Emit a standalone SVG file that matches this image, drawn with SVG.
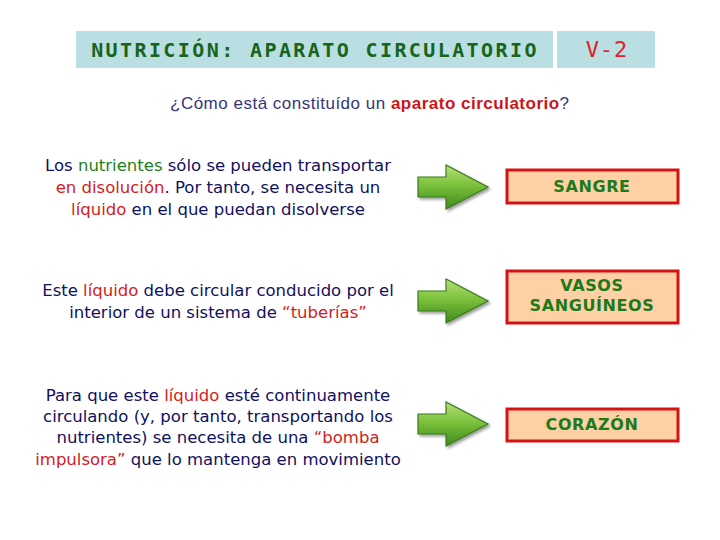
<svg xmlns="http://www.w3.org/2000/svg" width="720" height="540" viewBox="0 0 720 540">
<defs>
<linearGradient id="ag" x1="0" y1="0" x2="0" y2="1">
<stop offset="0" stop-color="#b6e07a"/>
<stop offset="0.45" stop-color="#7cc23c"/>
<stop offset="1" stop-color="#3f8a1c"/>
</linearGradient>
<filter id="sh" x="-20%" y="-20%" width="150%" height="150%">
<feGaussianBlur in="SourceAlpha" stdDeviation="1.5"/>
<feOffset dx="1.5" dy="2" result="b"/>
<feComponentTransfer><feFuncA type="linear" slope="0.4"/></feComponentTransfer>
<feMerge><feMergeNode/><feMergeNode in="SourceGraphic"/></feMerge>
</filter>
<path id="arrow" d="M-70,-10 L-42,-10 L-42,-22 L0,0 L-42,22 L-42,10 L-70,10 Z"/>
</defs>
<style>
.hdr{fill:#b9dfe3}
.ttl{font-family:"DejaVu Sans Mono",monospace;font-weight:bold;font-size:20px;fill:#17641a}
.v2{font-family:"DejaVu Sans Mono",monospace;font-size:22px;fill:#e0202a}
.q{font-family:"Liberation Sans",Arial,sans-serif;font-size:17px;fill:#35357a;letter-spacing:0.5px}
.qr{fill:#cc1515;font-weight:bold}
.body{font-family:"DejaVu Sans",sans-serif;font-size:16.5px;fill:#10105e;text-anchor:middle}
.g{fill:#1e7f1e}
.r{fill:#d42020}
.box{fill:#fdd0a6;stroke:#d41414;stroke-width:3}
.bt{font-family:"DejaVu Sans",sans-serif;font-weight:bold;font-size:16px;fill:#1d7a1a;text-anchor:middle;letter-spacing:0.6px}
.arr{fill:url(#ag);stroke:#3b7a1c;stroke-width:1.2;filter:url(#sh)}
</style>
<rect width="720" height="540" fill="#ffffff"/>
<g id="title">
<rect class="hdr" x="76" y="31" width="477" height="37"/>
<text class="ttl" x="315" y="57" text-anchor="middle" letter-spacing="2.4">NUTRICIÓN: APARATO CIRCULATORIO</text>
</g>
<g id="code">
<rect class="hdr" x="557" y="31" width="98" height="37"/>
<text class="v2" x="607" y="57" text-anchor="middle" letter-spacing="1">V-2</text>
</g>
<g id="question">
<text class="q" x="170" y="109">¿Cómo está constituído un <tspan class="qr">aparato circulatorio</tspan>?</text>
</g>
<g id="text1">
<text class="body" x="218" y="171">Los <tspan class="g">nutrientes</tspan> sólo se pueden transportar</text>
<text class="body" x="218" y="193"><tspan class="r">en disolución</tspan>. Por tanto, se necesita un</text>
<text class="body" x="218" y="215"><tspan class="r">líquido</tspan> en el que puedan disolverse</text>
</g>
<g id="text2">
<text class="body" x="218" y="296">Este <tspan class="r">líquido</tspan> debe circular conducido por el</text>
<text class="body" x="218" y="318">interior de un sistema de <tspan class="r">“tuberías”</tspan></text>
</g>
<g id="text3">
<text class="body" x="218" y="401">Para que este <tspan class="r">líquido</tspan> esté continuamente</text>
<text class="body" x="218" y="422">circulando (y, por tanto, transportando los</text>
<text class="body" x="218" y="443">nutrientes) se necesita de una <tspan class="r">“bomba</tspan></text>
<text class="body" x="218" y="465"><tspan class="r">impulsora”</tspan> que lo mantenga en movimiento</text>
</g>
<g id="connectors">
<use href="#arrow" class="arr" transform="translate(488,187)"/>
<use href="#arrow" class="arr" transform="translate(488,301)"/>
<use href="#arrow" class="arr" transform="translate(488,424)"/>
</g>
<g id="sangre">
<rect class="box" x="507" y="170" width="171" height="33"/>
<text class="bt" x="592" y="192">SANGRE</text>
</g>
<g id="vasos">
<rect class="box" x="507" y="271" width="171" height="52"/>
<text class="bt" x="592" y="291">VASOS</text>
<text class="bt" x="592" y="311">SANGUÍNEOS</text>
</g>
<g id="corazon">
<rect class="box" x="507" y="409" width="171" height="32"/>
<text class="bt" x="592" y="430">CORAZÓN</text>
</g>
</svg>
